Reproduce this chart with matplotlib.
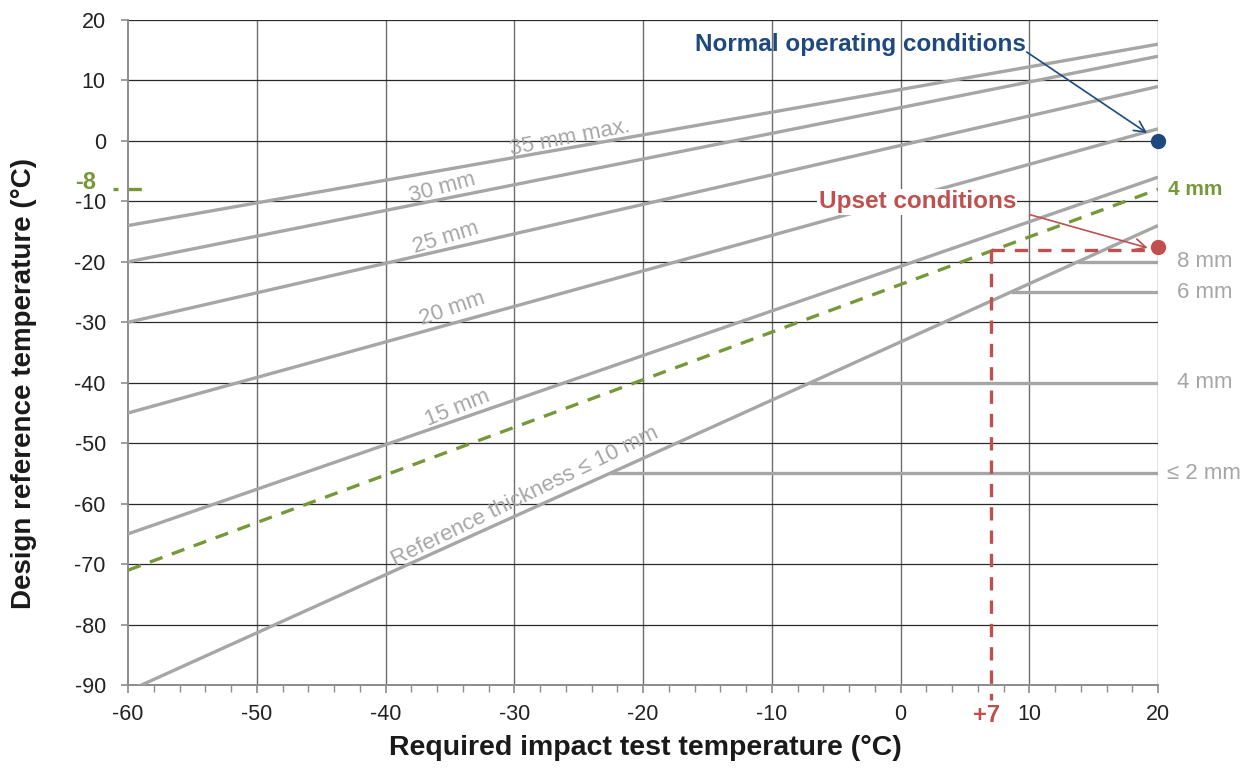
import numpy as np
import matplotlib.pyplot as plt
from matplotlib.ticker import MultipleLocator

plt.rcParams["font.family"] = ["Liberation Sans", "DejaVu Sans"]
plt.rcParams["axes.unicode_minus"] = False

# Reference thickness curves: design temperature at x = -60 and x = +20
curve_names = ["35 mm max.", "30 mm", "25 mm", "20 mm", "15 mm", "Reference thickness \u2264 10 mm"]
curve_x = [-60, 20]
curve_y_left = [-14, -20, -30, -45, -65, -91]
curve_y_right = [16, 14, 9, 2, -6, -14]

# Label placement (centre, data units) and angle for each curve
label_x = [-25.7, -35.6, -35.3, -34.8, -34.4, -29.2]
label_y = [0.5, -7.8, -16.0, -27.8, -44.2, -58.9]
label_rot = [11, 15, 17, 19, 22, 26]

# Thin-section plateaus
plateau_names = ["8 mm", "6 mm", "4 mm", "\u2264 2 mm"]
plateau_y = [-20, -25, -40, -55]
plateau_x_start = [13.8, 8.6, -7.0, -22.6]

# Interpolated 4 mm curve
green_x = [-60, 20]
green_y = [-71, -8]
green_value = -8

# Operating points
normal_pt = (20, 0)
upset_pt = (20, -17.5)
upset_design = -18
upset_impact = 7

GRAY = "#a6a6a6"
GREEN = "#77983a"
RED = "#c0504d"
BLUE = "#1f497d"

fig = plt.figure(figsize=(12.53, 7.69), dpi=100)
ax = fig.add_axes([0.1022, 0.1092, 0.822, 0.8648])

ax.set_xlim(-60, 20)
ax.set_ylim(-90, 20)

# grid
for gx in range(-50, 21, 10):
    ax.axvline(gx, color="#6e6e6e", lw=1.0, zorder=1)
for gy in range(-80, 21, 10):
    ax.axhline(gy, color="#2a2a2a", lw=0.9, zorder=1)

for name, yl, yr in zip(curve_names, curve_y_left, curve_y_right):
    ax.plot(curve_x, [yl, yr], color=GRAY, lw=2.4, zorder=3, solid_capstyle="butt")

for name, x, y, r in zip(curve_names, label_x, label_y, label_rot):
    ax.text(x, y, name, color=GRAY, fontsize=16, rotation=r,
            ha="center", va="center", rotation_mode="anchor", zorder=4)

for name, y, x0 in zip(plateau_names, plateau_y, plateau_x_start):
    ax.plot([x0, 20], [y, y], color=GRAY, lw=2.4, zorder=3, solid_capstyle="butt")
    ax.text(23.6, y, name, color=GRAY, fontsize=16, ha="center", va="center",
            clip_on=False)

# dashed 4 mm curve
ax.plot(green_x, green_y, color=GREEN, lw=2.4, ls=(0, (4, 3)), zorder=5)
ax.text(20.8, green_value, "4 mm", color=GREEN, fontsize=15, fontweight="bold",
        ha="left", va="center", clip_on=False)
ax.plot([-61.2, -58.5], [green_value, green_value], color=GREEN, lw=2.4,
        ls=(2.5, (4, 3)), clip_on=False, zorder=5)
ax.text(-63.3, green_value + 1.2, "-8", color=GREEN, fontsize=17, fontweight="bold",
        ha="center", va="center", clip_on=False)

# upset condition read-off
ax.plot([upset_impact, 20], [upset_design, upset_design], color=RED, lw=2.4,
        ls=(0, (4, 3)), zorder=5)
ax.plot([upset_impact, upset_impact], [upset_design, -92.5], color=RED, lw=2.4,
        ls=(0, (4, 3)), zorder=5, clip_on=False)
ax.text(upset_impact - 0.3, -95.0, "+7", color=RED, fontsize=17, fontweight="bold",
        ha="center", va="center", clip_on=False)

# operating points
ax.plot(*normal_pt, "o", color=BLUE, ms=10, zorder=6, clip_on=False)
ax.plot(*upset_pt, "o", color=RED, ms=10, zorder=6, clip_on=False)

ax.text(-3.15, 16.0, "Normal operating conditions", color=BLUE, fontsize=17.5,
        fontweight="bold", ha="center", va="center", zorder=7)
ax.annotate("", xy=(19.15, 1.3), xytext=(9.8, 14.7),
            arrowprops=dict(arrowstyle="->", color=BLUE, lw=1.2,
                            mutation_scale=20, shrinkA=0, shrinkB=0), zorder=7)

ax.text(1.3, -10.1, "Upset conditions", color=RED, fontsize=17.5,
        fontweight="bold", ha="center", va="center", zorder=7,
        bbox=dict(facecolor="white", edgecolor="none", pad=1))
ax.annotate("", xy=(19.2, -17.7), xytext=(10.05, -12.2),
            arrowprops=dict(arrowstyle="->", color=RED, lw=1.2,
                            mutation_scale=20, shrinkA=0, shrinkB=0), zorder=7)

# axes styling
for side in ["top", "right"]:
    ax.spines[side].set_visible(False)
for side in ["left", "bottom"]:
    ax.spines[side].set_color("#8c8c8c")
    ax.spines[side].set_linewidth(1.4)

ax.xaxis.set_major_locator(MultipleLocator(10))
ax.xaxis.set_minor_locator(MultipleLocator(2))
ax.yaxis.set_major_locator(MultipleLocator(10))
ax.tick_params(axis="x", which="major", direction="out", length=6, width=1.2,
               color="#8c8c8c", labelsize=15.5, pad=8, labelcolor="#222222")
ax.tick_params(axis="x", which="minor", direction="out", length=5, width=1.0,
               color="#8c8c8c")
ax.tick_params(axis="y", which="major", direction="out", length=5, width=1.2,
               color="#8c8c8c", labelsize=15.5, pad=11, labelcolor="#222222")

ax.set_xlabel("Required impact test temperature (\u00b0C)", fontsize=20.5,
              fontweight="bold", color="#1a1a1a")
ax.xaxis.set_label_coords(0.502, -0.075)
ax.set_ylabel("Design reference temperature (\u00b0C)", fontsize=20,
              fontweight="bold", color="#1a1a1a")
ax.yaxis.set_label_coords(-0.088, 0.454)

fig.savefig("out.png", dpi=100, facecolor="white")
